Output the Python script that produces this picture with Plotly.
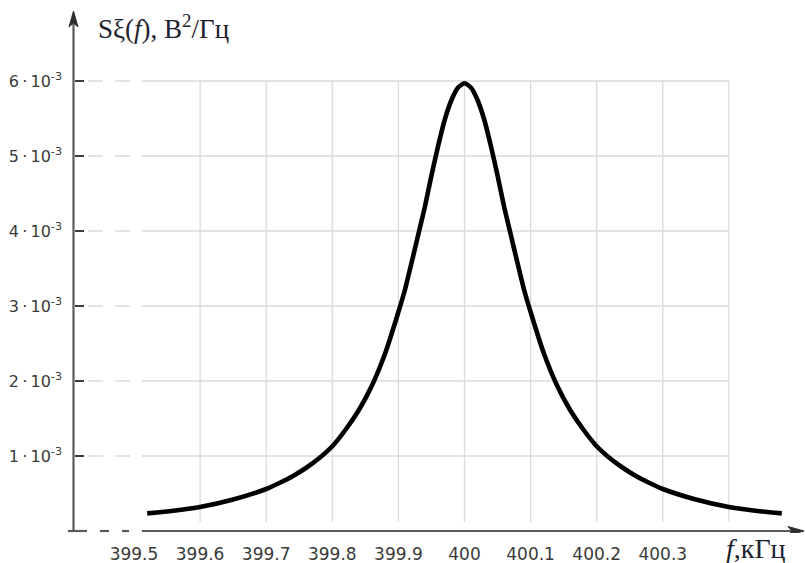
import plotly.graph_objects as go

# ---------------- data ----------------
FREQ_KHZ = [399.52, 399.55, 399.60, 399.65, 399.70, 399.72, 399.74, 399.76, 399.78, 399.80,
            399.82, 399.84, 399.86, 399.88, 399.90, 399.91, 399.92, 399.93, 399.94, 399.95,
            399.96, 399.97, 399.98, 399.99, 400.00, 400.01, 400.02, 400.03, 400.04, 400.05,
            400.06, 400.07, 400.08, 400.09, 400.10, 400.12, 400.14, 400.16, 400.18, 400.20,
            400.22, 400.24, 400.26, 400.28, 400.30, 400.35, 400.40, 400.45, 400.48]
S_VALUES = [0.235e-3, 0.26e-3, 0.32e-3, 0.42e-3, 0.56e-3, 0.64e-3, 0.73e-3, 0.84e-3, 0.97e-3, 1.13e-3,
            1.35e-3, 1.61e-3, 1.94e-3, 2.37e-3, 2.92e-3, 3.22e-3, 3.58e-3, 3.95e-3, 4.32e-3, 4.74e-3,
            5.13e-3, 5.48e-3, 5.74e-3, 5.91e-3, 5.97e-3, 5.91e-3, 5.74e-3, 5.48e-3, 5.13e-3, 4.74e-3,
            4.32e-3, 3.95e-3, 3.58e-3, 3.22e-3, 2.92e-3, 2.37e-3, 1.94e-3, 1.61e-3, 1.35e-3, 1.13e-3,
            0.97e-3, 0.84e-3, 0.73e-3, 0.64e-3, 0.56e-3, 0.42e-3, 0.32e-3, 0.26e-3, 0.235e-3]

X_TICKS = [399.5, 399.6, 399.7, 399.8, 399.9, 400.0, 400.1, 400.2, 400.3]
X_TICK_LABELS = ["399.5", "399.6", "399.7", "399.8", "399.9", "400", "400.1", "400.2", "400.3"]
X_GRID = [399.6, 399.7, 399.8, 399.9, 400.0, 400.1, 400.2, 400.3, 400.4]
Y_TICKS = [1e-3, 2e-3, 3e-3, 4e-3, 5e-3, 6e-3]
Y_TICK_LABELS = ["1\u2009·\u200910<sup>-3</sup>", "2\u2009·\u200910<sup>-3</sup>",
                 "3\u2009·\u200910<sup>-3</sup>", "4\u2009·\u200910<sup>-3</sup>",
                 "5\u2009·\u200910<sup>-3</sup>", "6\u2009·\u200910<sup>-3</sup>"]

# ---------------- geometry ----------------
W, H = 805, 563
L, R, T, B = 66, 0, 10, 30
PX_PER_KHZ = 661.0
PX_400 = 464.5
PX_PER_UNIT_Y = 75000.0
PY_ZERO = 531.0


def px_to_x(px):
    return 400.0 + (px - PX_400) / PX_PER_KHZ


def py_to_y(py):
    return (PY_ZERO - py) / PX_PER_UNIT_Y


def px_to_paper(px):
    return (px - L) / (W - L - R)


def py_to_paper(py):
    return (H - B - py) / (H - B - T)


X_RANGE = [px_to_x(L), px_to_x(W - R)]
Y_RANGE = [py_to_y(H - B), py_to_y(T)]

GRID_C = "#dadada"
AXIS_C = "#5a5a5a"
TEXT_C = "#3a3a3a"

fig = go.Figure()
fig.add_trace(go.Scatter(
    x=FREQ_KHZ, y=S_VALUES, mode="lines",
    line=dict(color="#000000", width=4.6, shape="spline", smoothing=0.6),
    hoverinfo="skip", showlegend=False,
))

shapes = []
grid_left = px_to_x(142)
# vertical grid lines
for xv in X_GRID:
    shapes.append(dict(type="line", xref="x", yref="y", x0=xv, x1=xv,
                       y0=py_to_y(522), y1=Y_TICKS[-1],
                       line=dict(color=GRID_C, width=1.3), layer="below"))
# horizontal grid lines
for yv in Y_TICKS:
    shapes.append(dict(type="line", xref="x", yref="y", x0=grid_left, x1=X_GRID[-1],
                       y0=yv, y1=yv, line=dict(color=GRID_C, width=1.3), layer="below"))
    shapes.append(dict(type="line", xref="x", yref="y", x0=px_to_x(88), x1=grid_left,
                       y0=yv, y1=yv, line=dict(color=GRID_C, width=1.3, dash="15px,12px"),
                       layer="below"))
    # tick mark
    shapes.append(dict(type="line", xref="x", yref="y", x0=px_to_x(75), x1=px_to_x(84),
                       y0=yv, y1=yv, line=dict(color="#3c3c3c", width=2), layer="below"))
# y axis
Y_AX = px_to_x(73.5)
shapes.append(dict(type="line", xref="x", yref="y", x0=Y_AX, x1=Y_AX,
                   y0=py_to_y(531), y1=py_to_y(18),
                   line=dict(color=AXIS_C, width=2.2), layer="below"))
# x axis (broken near origin)
for a, b in [(68, 87), (100, 109), (122, 129), (142, 792)]:
    shapes.append(dict(type="line", xref="x", yref="y", x0=px_to_x(a), x1=px_to_x(b),
                       y0=0, y1=0, line=dict(color=AXIS_C, width=2.2), layer="below"))


def tri(points):
    d = "M " + " L ".join(f"{px_to_x(px)} {py_to_y(py)}" for px, py in points) + " Z"
    return d


# arrow heads (drawn as small paths)
shapes.append(dict(type="path", xref="x", yref="y",
                   path=tri([(73.5, 11), (69.0, 27), (73.5, 23), (78.0, 27)]),
                   fillcolor="#2e2e2e", line=dict(color="#2e2e2e", width=1)))
shapes.append(dict(type="path", xref="x", yref="y",
                   path=tri([(804, 531), (788, 526.5), (792, 531), (788, 535.5)]),
                   fillcolor="#2e2e2e", line=dict(color="#2e2e2e", width=1)))

annotations = [
    dict(x=px_to_paper(96), y=py_to_paper(27), xref="paper", yref="paper",
         xanchor="left", yanchor="middle",
         text="S<span>ξ</span>(<i>f</i>), В<sup>2</sup>/Гц", showarrow=False,
         font=dict(family="Liberation Serif", size=27, color="#1e2230")),
    dict(x=px_to_paper(788), y=py_to_paper(548), xref="paper", yref="paper",
         xanchor="right", yanchor="middle",
         text="<i>f</i>,кГц", showarrow=False,
         font=dict(family="Liberation Serif", size=28, color="#1e2230")),
]

fig.update_layout(
    width=W, height=H,
    margin=dict(l=L, r=R, t=T, b=B, pad=0),
    paper_bgcolor="white", plot_bgcolor="white",
    shapes=shapes, annotations=annotations,
    xaxis=dict(range=X_RANGE, showgrid=False, zeroline=False, showline=False,
               tickmode="array", tickvals=X_TICKS, ticktext=X_TICK_LABELS, ticks="",
               ticklabelstandoff=9,
               tickfont=dict(family="DejaVu Sans", size=17, color=TEXT_C)),
    yaxis=dict(range=Y_RANGE, showgrid=False, zeroline=False, showline=False,
               tickmode="array", tickvals=Y_TICKS, ticktext=Y_TICK_LABELS, ticks="",
               ticklabelstandoff=3,
               tickfont=dict(family="DejaVu Sans", size=16, color=TEXT_C)),
    showlegend=False,
)

fig.write_html("out.html", config={"displayModeBar": False},
               post_script="document.body.style.margin='0';document.body.style.overflow='hidden';")
